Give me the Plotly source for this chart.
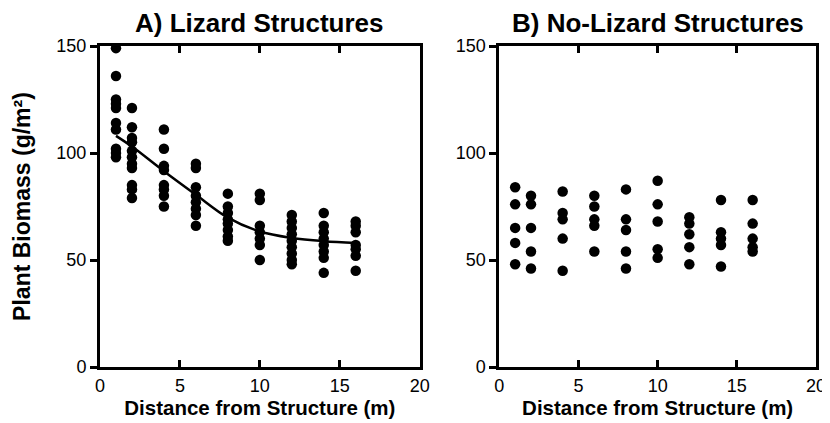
import plotly.graph_objects as go

# ---- data ----
distances = [1, 2, 4, 6, 8, 10, 12, 14, 16]

lizard_biomass = {
    1: [149, 136, 125, 123, 121, 114, 111, 102, 100, 98],
    2: [121, 112, 107, 105, 101, 98, 95, 93, 85, 83, 79],
    4: [111, 102, 94, 92, 85, 83, 80, 75],
    6: [95, 93, 84, 80, 77, 74, 71, 66],
    8: [81, 75, 72, 69, 67, 64, 61, 59],
    10: [81, 78, 66, 63, 60, 57, 50],
    12: [71, 68, 65, 62, 59, 56, 53, 50, 48],
    14: [72, 66, 63, 60, 57, 54, 51, 44],
    16: [68, 66, 63, 57, 55, 52, 45],
}

nolizard_biomass = {
    1: [84, 76, 65, 58, 48],
    2: [80, 76, 65, 54, 46],
    4: [82, 72, 69, 60, 45],
    6: [80, 75, 69, 66, 54],
    8: [83, 69, 64, 54, 46],
    10: [87, 76, 68, 55, 51],
    12: [70, 67, 62, 56, 48],
    14: [78, 63, 60, 57, 47],
    16: [78, 67, 60, 56, 54],
}

fit_x = [1, 2, 4, 6, 8, 10, 12, 14, 16]
fit_y = [108, 103, 91.5, 80.5, 69.8, 63.3, 60.3, 58.8, 58]

panel_titles = ["A) Lizard Structures", "B) No-Lizard Structures"]
x_ticks = [0, 5, 10, 15, 20]
y_ticks = [0, 50, 100, 150]
x_range = [0, 20]
y_range = [0, 150]

# ---- build figure ----
FONT = "Liberation Sans, Arial, Helvetica, sans-serif"

def flatten(d):
    xs, ys = [], []
    for k in distances:
        for v in d[k]:
            xs.append(k)
            ys.append(v)
    return xs, ys

fig = go.Figure()
ax, ay = flatten(lizard_biomass)
bx, by = flatten(nolizard_biomass)

fig.add_trace(go.Scatter(x=fit_x, y=fit_y, mode="lines", line=dict(color="black", width=2.5, shape="spline"),
                         xaxis="x", yaxis="y", showlegend=False, hoverinfo="skip"))
fig.add_trace(go.Scatter(x=ax, y=ay, mode="markers", marker=dict(color="black", size=10.5),
                         xaxis="x", yaxis="y", showlegend=False, cliponaxis=False))
fig.add_trace(go.Scatter(x=bx, y=by, mode="markers", marker=dict(color="black", size=10.5),
                         xaxis="x2", yaxis="y2", showlegend=False, cliponaxis=False))

common_x = dict(range=x_range, tickvals=x_ticks, ticks="inside", ticklen=7, tickwidth=2.5, tickcolor="#000000",
                showline=True, linewidth=3, linecolor="#000000", mirror="allticks", showgrid=False, zeroline=False,
                tickfont=dict(family=FONT, size=18, color="black"))
common_y = dict(range=y_range, tickvals=y_ticks, ticks="outside", ticklen=7, tickwidth=2.5, tickcolor="#000000",
                showline=True, linewidth=3, linecolor="#000000", mirror=True, showgrid=False, zeroline=False,
                tickfont=dict(family=FONT, size=18, color="black"))

xtitle = dict(text="<b>Distance from Structure (m)</b>", font=dict(family=FONT, size=20.5, color="black"), standoff=6)

L, R, T, B = 92, 19, 38, 64
W, H = 830, 423
pw = W - L - R
d1 = [0, (413 - L) / pw]
d2 = [(493 - L) / pw, 1]

fig.update_layout(
    width=W, height=H,
    margin=dict(l=L, r=R, t=T, b=B),
    plot_bgcolor="white", paper_bgcolor="white",
    xaxis=dict(domain=d1, anchor="y", title=xtitle, **common_x),
    yaxis=dict(domain=[0, 1], anchor="x",
               title=dict(text="<b>Plant Biomass (g/m²)</b>", font=dict(family=FONT, size=23, color="black"), standoff=20),
               **common_y),
    xaxis2=dict(domain=d2, anchor="y2", title=xtitle, **common_x),
    yaxis2=dict(domain=[0, 1], anchor="x2", **common_y),
)

for t, d in zip(panel_titles, [d1, d2]):
    fig.add_annotation(text=f"<b>{t}</b>", xref="paper", yref="paper", x=(d[0] + d[1]) / 2, y=1,
                       yshift=6, xanchor="center", yanchor="bottom", showarrow=False,
                       font=dict(family=FONT, size=26, color="black"))

fig.write_html("out.html")
